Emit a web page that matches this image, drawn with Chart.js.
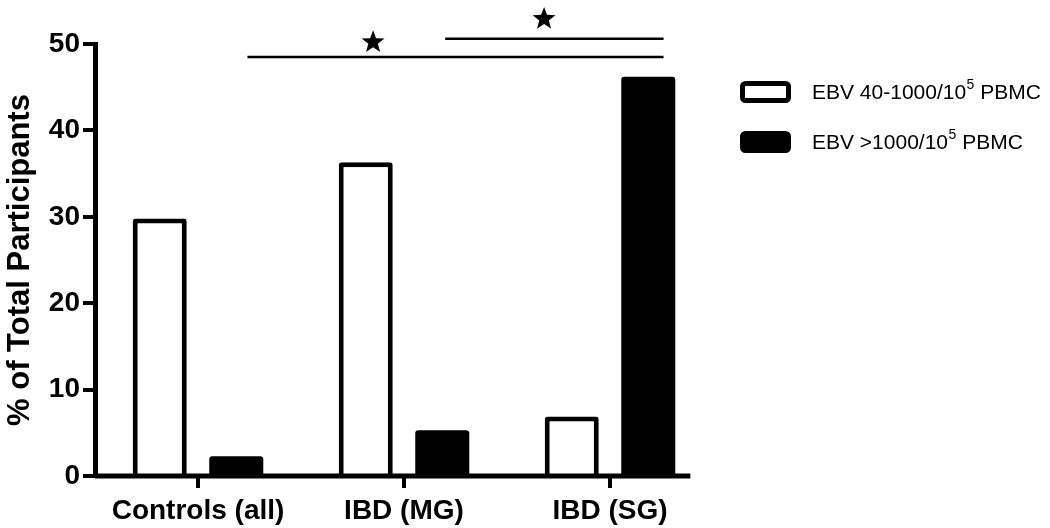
<!DOCTYPE html>
<html>
<head>
<meta charset="utf-8">
<script src="https://cdn.jsdelivr.net/npm/chart.js@4"></script>
<style>
  html, body { margin: 0; padding: 0; background: #fff; }
  #wrap { width: 1050px; height: 528px; }
</style>
</head>
<body>
<div id="wrap"><canvas id="chart" width="1050" height="528"></canvas></div>
<script>
'use strict';

// data
var categories = [ 'Controls (all)', 'IBD (MG)', 'IBD (SG)' ];
var seriesLabels = [ 'EBV 40-1000/10^5 PBMC', 'EBV >1000/10^5 PBMC' ];
var lowLoad = [ 29.8, 36.3, 6.9 ];
var highLoad = [ 2.3, 5.3, 46.2 ];
var yTicks = [ 0, 10, 20, 30, 40, 50 ];

// significance bars, in category index / value units
var sigStart = [ 0.24, 1.2 ];
var sigEnd = [ 2.26, 2.26 ];
var sigLevel = [ 48.5, 50.6 ];
var starAt = [ 0.85, 1.68 ];
var starLevel = [ 50.2, 52.9 ];

var FONT = '"Liberation Sans", Arial, Helvetica, sans-serif';

function catPixel( x, f ) {
	var p0 = x.getPixelForValue( 0 );
	var p1 = x.getPixelForValue( 1 );
	return p0 + f * ( p1 - p0 );
}

function drawStar( ctx, cx, cy, r ) {
	ctx.beginPath();
	for ( var i = 0; i < 10; i++ ) {
		var rad = ( i % 2 === 0 ) ? r : r * 0.42;
		var a = -Math.PI / 2 + i * Math.PI / 5;
		var px = cx + rad * Math.cos( a );
		var py = cy + rad * Math.sin( a );
		if ( i === 0 ) ctx.moveTo( px, py ); else ctx.lineTo( px, py );
	}
	ctx.closePath();
	ctx.fill();
}

var extras = {
	id: 'extras',
	afterDatasetsDraw: function( chart ) {
		var ctx = chart.ctx;
		var x = chart.scales.x;
		var y = chart.scales.y;
		var area = chart.chartArea;
		ctx.save();
		ctx.strokeStyle = '#000';
		ctx.fillStyle = '#000';

		// x axis line, stops short of the chart area edge like the original
		var step = x.getPixelForValue( 1 ) - x.getPixelForValue( 0 );
		ctx.lineWidth = 5;
		ctx.beginPath();
		ctx.moveTo( area.left, y.getPixelForValue( 0 ) );
		ctx.lineTo( x.getPixelForValue( categories.length - 1 ) + 0.39 * step, y.getPixelForValue( 0 ) );
		ctx.stroke();

		// significance lines and stars
		ctx.lineWidth = 2.5;
		for ( var i = 0; i < sigStart.length; i++ ) {
			var ly = y.getPixelForValue( sigLevel[ i ] );
			ctx.beginPath();
			ctx.moveTo( catPixel( x, sigStart[ i ] ), ly );
			ctx.lineTo( catPixel( x, sigEnd[ i ] ), ly );
			ctx.stroke();
			drawStar( ctx, catPixel( x, starAt[ i ] ), y.getPixelForValue( starLevel[ i ] ), 12 );
		}

		// legend with superscript
		var lx = 740, ly0 = 92, gap = 50;
		chart.data.datasets.forEach( function( ds, k ) {
			var cy = ly0 + k * gap;
			ctx.beginPath();
			ctx.roundRect( lx + 2.5, cy - 8.5, 46, 17, 3 );
			ctx.fillStyle = ds.backgroundColor;
			ctx.fill();
			ctx.lineWidth = 5;
			ctx.strokeStyle = '#000';
			ctx.stroke();

			var parts = ds.label.split( '^' );
			var tx = 812;
			ctx.fillStyle = '#000';
			ctx.textBaseline = 'middle';
			ctx.textAlign = 'left';
			ctx.font = '21px ' + FONT;
			ctx.fillText( parts[ 0 ], tx, cy + 1 );
			tx += ctx.measureText( parts[ 0 ] ).width;
			if ( parts.length > 1 ) {
				var sup = parts[ 1 ].charAt( 0 );
				var rest = parts[ 1 ].slice( 1 );
				ctx.font = '14px ' + FONT;
				ctx.fillText( sup, tx + 0.5, cy - 7 );
				tx += ctx.measureText( sup ).width + 0.5;
				ctx.font = '21px ' + FONT;
				ctx.fillText( rest, tx, cy + 1 );
			}
		} );
		ctx.restore();
	}
};

var chart = new Chart( document.getElementById( 'chart' ), {
	type: 'bar',
	data: {
		labels: categories,
		datasets: [ {
			label: seriesLabels[ 0 ],
			data: lowLoad,
			backgroundColor: '#fff',
			borderColor: '#000',
			borderWidth: 5,
			borderRadius: 3,
			categoryPercentage: 0.743,
			barPercentage: 0.706
		}, {
			label: seriesLabels[ 1 ],
			data: highLoad,
			backgroundColor: '#000',
			borderColor: '#000',
			borderWidth: 0,
			borderRadius: 3,
			categoryPercentage: 0.743,
			barPercentage: 0.706
		} ]
	},
	options: {
		responsive: false,
		animation: false,
		layout: {
			padding: { left: 0, right: 337, top: 44, bottom: 0 }
		},
		plugins: {
			legend: { display: false },
			tooltip: { enabled: false }
		},
		scales: {
			x: {
				offset: true,
				border: { display: false },
				grid: {
					offset: false,
					drawOnChartArea: false,
					drawTicks: true,
					tickLength: 12,
					lineWidth: 4,
					color: '#000'
				},
				ticks: {
					color: '#000',
					padding: 6,
					maxRotation: 0,
					font: { family: FONT, size: 28, weight: 'bold' }
				},
				afterFit: function( scale ) { scale.height = 52; }
			},
			y: {
				min: 0,
				max: 50,
				afterBuildTicks: function( scale ) {
					scale.ticks = yTicks.map( function( v ) { return { value: v }; } );
				},
				border: { display: true, width: 5, color: '#000' },
				grid: {
					drawOnChartArea: false,
					drawTicks: true,
					tickLength: 12,
					lineWidth: 4,
					color: '#000'
				},
				ticks: {
					color: '#000',
					padding: 3,
					font: { family: FONT, size: 28, weight: 'bold' }
				},
				title: {
					display: true,
					text: '% of Total Participants',
					color: '#000',
					padding: { top: 2, bottom: 0 },
					font: { family: FONT, size: 31, weight: 'bold' }
				},
				afterFit: function( scale ) { scale.width = 95; }
			}
		}
	},
	plugins: [ extras ]
} );
</script>
</body>
</html>
